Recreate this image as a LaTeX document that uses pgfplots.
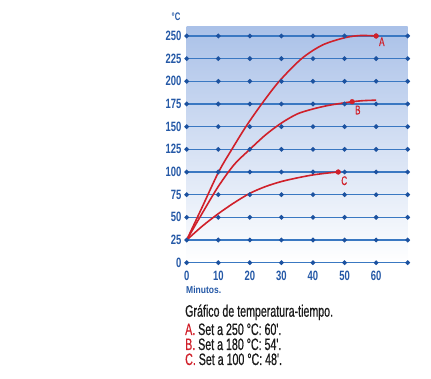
\documentclass[border=0pt]{standalone}
\usepackage{pgfplots}
\pgfplotsset{compat=1.18}
\usepackage{fontspec}
\setmainfont{Liberation Sans}
\newfontfamily\cond[FakeStretch=0.645,FakeBold=0.6]{Liberation Sans}
\newfontfamily\condb[FakeStretch=0.70]{Liberation Sans}
\newfontfamily\condm[FakeStretch=0.85]{Liberation Sans}
\definecolor{tickblue}{HTML}{2458A6}
\definecolor{lineblue}{HTML}{3A78C2}
\definecolor{dotblue}{HTML}{1C52A0}
\definecolor{curvered}{HTML}{D0202A}
\definecolor{shadetop}{HTML}{AAC1E8}
\definecolor{captext}{HTML}{1A1A1A}
\begin{document}
\begin{tikzpicture}
\path[use as bounding box] (-186.7pt,-116.3pt) rectangle (244.3pt,262.7pt);
\begin{axis}[
  at={(0,0)}, anchor=south west,
  scale only axis, width=221pt, height=235.8pt,
  xmin=0, xmax=70, ymin=0, ymax=260,
  clip=false,
  axis line style={draw=none},
  major tick length=0pt,
  xtick={0,10,...,60}, ytick={0,25,...,250},
  /pgf/number format/assume math mode=true,
  tick label style={font=\condb\bfseries\fontsize{13.5}{13.5}\selectfont, text=tickblue},
  yticklabel style={anchor=east, inner sep=0pt, xshift=-5pt},
  xticklabel style={anchor=north, inner sep=0pt, yshift=-8.5pt},
  axis background/.style={top color=shadetop, bottom color=white},
]
\pgfplotsinvokeforeach{0,25,...,250}{
  \addplot[lineblue, line width=1.2pt, mark=*, mark size=1.7pt,
    mark options={fill=dotblue, draw=dotblue}]
    coordinates {(0,#1)(10,#1)(20,#1)(30,#1)(40,#1)(50,#1)(60,#1)(70,#1)};
}
% Curve A
\addplot[curvered, line width=1.6pt, smooth] coordinates {
  (0,25)(5,62)(10.1,100)(14.3,125)(18.75,150)(23.75,175)(29.3,200)
  (36.4,225)(43,240)(50,248)(55,250.5)(60,250)};
% Curve B
\addplot[curvered, line width=1.6pt, smooth] coordinates {
  (0,25)(5,55)(10,84)(15,108)(20,125)(25,141)(30,154)(35,164)
  (40,169.5)(45,173.5)(50,176.3)(52.4,177.5)(56,178.7)(60,179.2)};
% Curve C
\addplot[curvered, line width=1.6pt, smooth] coordinates {
  (0,25)(5,40.5)(10,54)(15,66)(20,76.5)(25,84)(30,89.5)(35,93.5)
  (40,96.8)(45,99)(48,100)};
\addplot[only marks, mark=*, mark size=2.4pt, curvered] coordinates {
  (60,250)(52.4,177.5)(48,100)};
\node[text=curvered, font=\cond\fontsize{12.5}{12.5}\selectfont] at (axis cs:61.8,243.7) {A};
\node[text=curvered, font=\cond\fontsize{12.5}{12.5}\selectfont] at (axis cs:54.2,168.4) {B};
\node[text=curvered, font=\cond\fontsize{12.5}{12.5}\selectfont] at (axis cs:49.9,90.4) {C};
\end{axis}
\node[text=tickblue, font=\condb\bfseries\fontsize{11}{11}\selectfont, inner sep=0pt] at (-10.7pt,245.7pt) {°C};
\node[text=tickblue, font=\condm\bfseries\fontsize{10}{10}\selectfont, anchor=west, inner sep=0pt] at (-0.7pt,-27.3pt) {Minutos.};
\node[text=captext, font=\cond\fontsize{16.5}{15}\selectfont, anchor=base west, inner sep=0pt] at (-1.7pt,-54pt) {Gráfico de temperatura-tiempo.};
\node[text=captext, font=\cond\fontsize{16.5}{15}\selectfont, anchor=base west, inner sep=0pt] at (-1.7pt,-72.3pt) {\textcolor{curvered}{A.} Set a 250 °C: 60'.};
\node[text=captext, font=\cond\fontsize{16.5}{15}\selectfont, anchor=base west, inner sep=0pt] at (-1.7pt,-87.3pt) {\textcolor{curvered}{B.} Set a 180 °C: 54'.};
\node[text=captext, font=\cond\fontsize{16.5}{15}\selectfont, anchor=base west, inner sep=0pt] at (-1.7pt,-102.3pt) {\textcolor{curvered}{C.} Set a 100 °C: 48'.};
\end{tikzpicture}
\end{document}
